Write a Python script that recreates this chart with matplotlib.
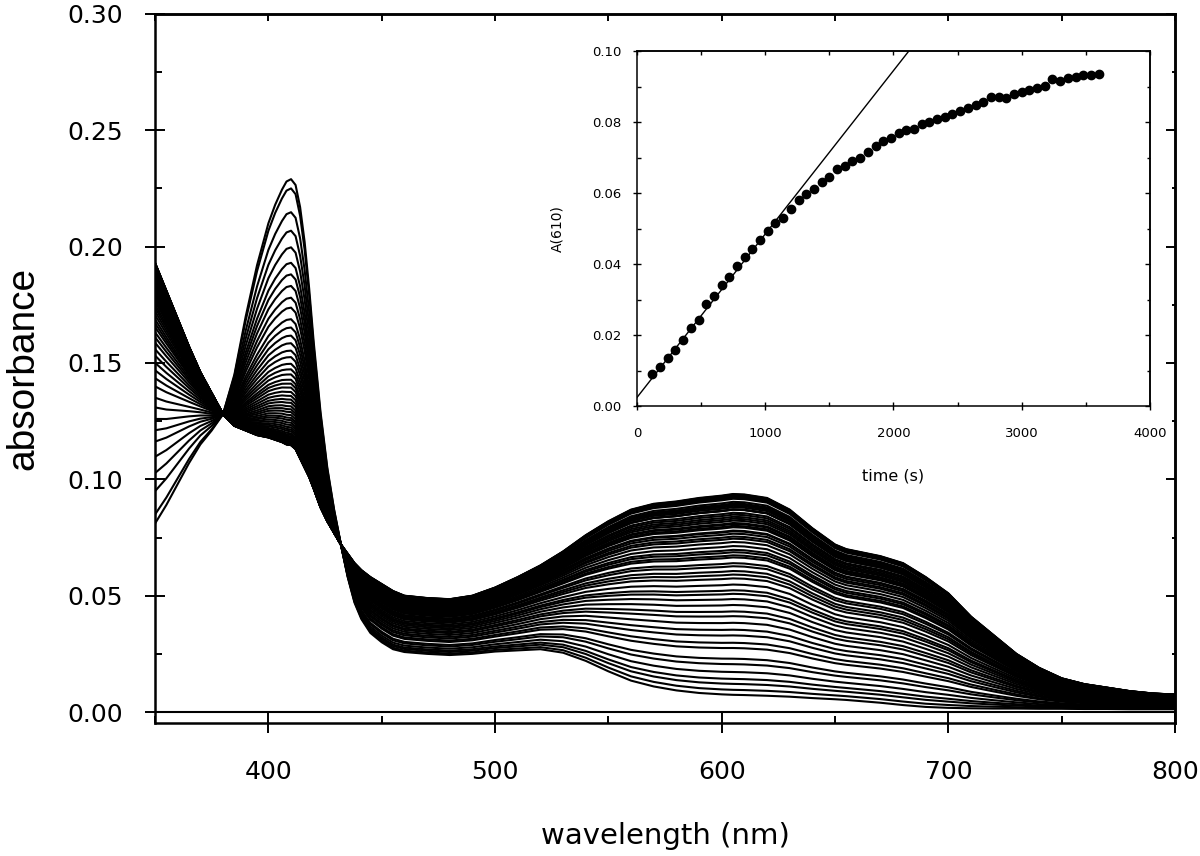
import numpy as np
import matplotlib
matplotlib.use("Agg")
import matplotlib.pyplot as plt
from matplotlib.ticker import MultipleLocator, NullFormatter, FormatStrFormatter

# wavelength grid (nm) and the first / last spectra
wl = [350, 355, 360, 365, 370, 375, 380, 385, 390, 395, 400, 403, 406, 408, 410,
      412, 414, 416, 418, 420, 423, 426, 429, 432, 435, 438, 441, 445, 450, 455,
      460, 470, 480, 490, 500, 510, 520, 530, 540, 550, 560, 570, 580, 590, 600,
      605, 610, 620, 630, 640, 650, 655, 660, 670, 680, 690, 700, 710, 720, 730,
      740, 750, 760, 770, 780, 790, 800]

spec_first = [0.081, 0.089, 0.098, 0.107, 0.115, 0.121, 0.128, 0.145, 0.170, 0.192,
              0.210, 0.218, 0.2245, 0.228, 0.229, 0.2265, 0.217, 0.202, 0.182, 0.159,
              0.129, 0.105, 0.087, 0.072, 0.058, 0.047, 0.040, 0.034, 0.030, 0.027,
              0.0258, 0.025, 0.0245, 0.025, 0.026, 0.0265, 0.027, 0.0255, 0.022, 0.0175,
              0.0135, 0.011, 0.0093, 0.0082, 0.0076, 0.0074, 0.0073, 0.007, 0.0066, 0.006,
              0.0055, 0.0052, 0.0048, 0.004, 0.003, 0.0022, 0.0018, 0.0016, 0.0015, 0.0015,
              0.0014, 0.0014, 0.0013, 0.0013, 0.0012, 0.0012, 0.0012]

spec_last = [0.193, 0.181, 0.169, 0.157, 0.146, 0.137, 0.128, 0.123, 0.121, 0.119,
             0.118, 0.117, 0.116, 0.115, 0.1147, 0.113, 0.109, 0.105, 0.101, 0.096,
             0.088, 0.082, 0.077, 0.072, 0.068, 0.064, 0.061, 0.058, 0.055, 0.052,
             0.050, 0.049, 0.0485, 0.050, 0.0535, 0.058, 0.063, 0.069, 0.076, 0.082,
             0.087, 0.0895, 0.0905, 0.092, 0.093, 0.0937, 0.0935, 0.092, 0.087, 0.079,
             0.072, 0.070, 0.069, 0.067, 0.064, 0.058, 0.051, 0.041, 0.033, 0.025,
             0.019, 0.0145, 0.012, 0.0105, 0.009, 0.008, 0.0075]

baseline = [0.0] * len(wl)

# Soret peak height (410 nm) of each recorded spectrum
peak410 = [0.2298, 0.2258, 0.2155, 0.2075, 0.2003, 0.1936, 0.1886, 0.1836, 0.1785, 0.1742,
           0.1692, 0.1656, 0.1621, 0.1588, 0.1556, 0.1528, 0.1499, 0.1475, 0.1453, 0.1430,
           0.1413, 0.1396, 0.1377, 0.1360, 0.1344, 0.1330, 0.1315, 0.1302, 0.1290, 0.1277,
           0.1265, 0.1255, 0.1244, 0.1234, 0.1224, 0.1215, 0.1207, 0.1198, 0.1191, 0.1185,
           0.1180, 0.1175, 0.1171, 0.1167, 0.1164, 0.1161, 0.1158, 0.1156, 0.1154, 0.1153,
           0.1152, 0.1151, 0.1150, 0.1149, 0.1149, 0.1148, 0.1148, 0.1147, 0.1147]

# inset: A(610) vs time
time_s = list(range(120, 3601, 60))
a610 = [0.0090, 0.0111, 0.0136, 0.0157, 0.0186, 0.0219, 0.0242, 0.0287, 0.0309, 0.0340,
        0.0364, 0.0393, 0.0421, 0.0441, 0.0468, 0.0493, 0.0515, 0.0530, 0.0554, 0.0580,
        0.0596, 0.0611, 0.0631, 0.0644, 0.0668, 0.0677, 0.0690, 0.0700, 0.0716, 0.0733,
        0.0747, 0.0756, 0.0768, 0.0778, 0.0781, 0.0795, 0.0801, 0.0809, 0.0813, 0.0823,
        0.0831, 0.0839, 0.0848, 0.0856, 0.0870, 0.0870, 0.0869, 0.0879, 0.0885, 0.0890,
        0.0895, 0.0902, 0.0920, 0.0915, 0.0925, 0.0928, 0.0932, 0.0933, 0.0935]
fit_t = [0, 2120]
fit_a = [0.0024, 0.1000]

wl = np.array(wl)
s0 = np.array(spec_first)
s1 = np.array(spec_last)
p410 = np.array(peak410)
p610 = np.array(a610)
# progress of each spectrum: Soret side from the 410 peak, visible side from A(610)
frac_soret = (p410[0] - p410) / (p410[0] - p410[-1])
frac_vis = (p610 - p610[0]) / (p610[-1] - p610[0])

fig = plt.figure(figsize=(12, 8.56), dpi=100)
ax = fig.add_axes([0.1292, 0.1554, 0.85, 0.8283])

for fs, fv in zip(frac_soret, frac_vis):
    g = np.where(wl <= 432, fs, fv)
    ax.plot(wl, s0 + g * (s1 - s0), color='black', lw=1.5)
ax.plot(wl, baseline, color='black', lw=1.5)

ax.set_xlim(350, 800)
ax.set_ylim(-0.0047, 0.30)
for sp in ax.spines.values():
    sp.set_linewidth(1.8)
ax.xaxis.set_major_locator(MultipleLocator(100))
ax.xaxis.set_minor_locator(MultipleLocator(50))
ax.yaxis.set_major_locator(MultipleLocator(0.05))
ax.yaxis.set_minor_locator(MultipleLocator(0.025))
ax.yaxis.set_major_formatter(FormatStrFormatter('%.2f'))
ax.set_xticks([400, 500, 600, 700, 800])
ax.tick_params(which='major', direction='inout', length=14, width=1.4, labelsize=18)
ax.tick_params(axis='y', which='major', pad=16)
ax.tick_params(axis='x', which='major', pad=20)
ax.tick_params(which='minor', direction='in', length=5, width=1.4)

top = ax.secondary_xaxis('top')
top.xaxis.set_major_locator(MultipleLocator(50))
top.xaxis.set_major_formatter(NullFormatter())
top.tick_params(direction='in', length=5, width=1.4)
top.spines['top'].set_linewidth(1.8)
right = ax.secondary_yaxis('right')
right.yaxis.set_major_locator(MultipleLocator(0.05))
right.yaxis.set_minor_locator(MultipleLocator(0.025))
right.yaxis.set_major_formatter(NullFormatter())
right.tick_params(which='major', direction='in', length=6.5, width=1.4)
right.tick_params(which='minor', direction='in', length=2.2, width=1.4)
right.spines['right'].set_linewidth(1.8)

ax.set_xlabel('wavelength (nm)', fontsize=21, va='center')
ax.xaxis.set_label_coords(0.5, -0.159)
ax.set_ylabel('absorbance', fontsize=28, family='Liberation Sans', va='center')
ax.yaxis.set_label_coords(-0.129, 0.5)

# inset
ins = fig.add_axes([0.5308, 0.5257, 0.4275, 0.4147])
ins.plot(fit_t, fit_a, color='black', lw=1.0)
ins.plot(time_s, a610, 'o', color='black', ms=6)
ins.set_xlim(0, 4000)
ins.set_ylim(0, 0.10)
for sp in ins.spines.values():
    sp.set_linewidth(1.1)
ins.xaxis.set_major_locator(MultipleLocator(1000))
ins.xaxis.set_minor_locator(MultipleLocator(500))
ins.yaxis.set_major_locator(MultipleLocator(0.02))
ins.yaxis.set_minor_locator(MultipleLocator(0.01))
ins.yaxis.set_major_formatter(FormatStrFormatter('%.2f'))
ins.tick_params(which='major', direction='inout', length=6, width=1.0, labelsize=9.5)
ins.tick_params(axis='x', which='major', pad=12)
ins.tick_params(axis='y', which='major', pad=8)
ins.tick_params(which='minor', direction='in', length=3, width=1.0)

itop = ins.secondary_xaxis('top')
itop.xaxis.set_major_locator(MultipleLocator(500))
itop.xaxis.set_major_formatter(NullFormatter())
itop.tick_params(direction='in', length=3, width=1.0)
itop.spines['top'].set_linewidth(1.1)
iright = ins.secondary_yaxis('right')
iright.yaxis.set_major_locator(MultipleLocator(0.02))
iright.yaxis.set_minor_locator(MultipleLocator(0.01))
iright.yaxis.set_major_formatter(NullFormatter())
iright.tick_params(which='major', direction='in', length=3.5, width=1.0)
iright.tick_params(which='minor', direction='in', length=2.5, width=1.0)
iright.spines['right'].set_linewidth(1.1)

ins.set_xlabel('time (s)', fontsize=11.5, va='center')
ins.xaxis.set_label_coords(0.5, -0.197)
ins.set_ylabel('A(610)', fontsize=10, va='center')
ins.yaxis.set_label_coords(-0.156, 0.5)

fig.savefig('out.png', dpi=100)
